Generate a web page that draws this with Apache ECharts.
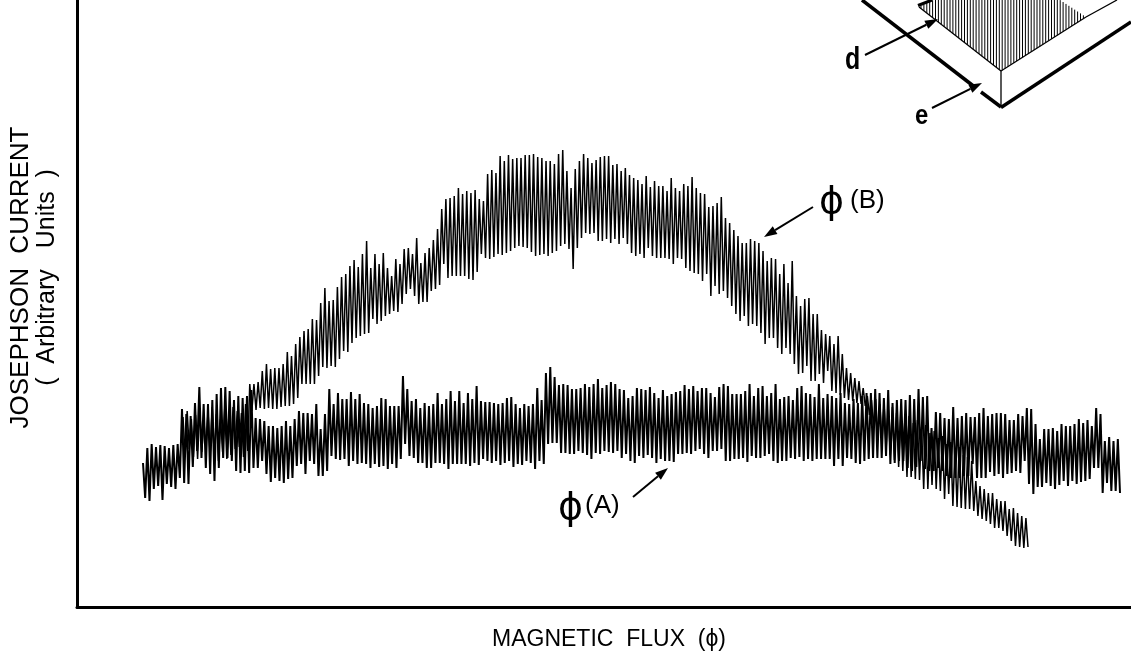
<!DOCTYPE html>
<html>
<head>
<meta charset="utf-8">
<style>html,body{margin:0;padding:0;background:#fff}#chart{width:1131px;height:654px}</style>
<script src="https://cdn.jsdelivr.net/npm/echarts@6/dist/echarts.min.js"></script>
</head>
<body>
<div id="chart"></div>
<script>
const xTitle = "MAGNETIC  FLUX  (ϕ)";
const yTitleLine1 = "JOSEPHSON  CURRENT";
const yTitleLine2 = "(  Arbitrary   Units  )";
const labelA = "(A)";
const labelB = "(B)";

const fluxRangeA = [66, 1043];
const fluxRangeB = [106, 951];

const aTops1 = [144,159,163,160,162,161,159,162,163,198,193,191,204,220,203,203,207,213,219,220,216,207,211,209,211,217,189,188,186,181,181,179,181,186,181,188,196,194,194,193,203,178,193,218,203,214,208,208,215,208,213,204,203,199,201,209,208,201,201,201,231,218,206,208,199,204,201,203,214,203,208,216,206,216,204,214,208];
const aBottoms1 = [109,106,118,121,107,123,120,118,129,124,123,140,156,149,139,133,126,139,149,149,146,136,134,136,134,139,139,146,133,125,129,126,124,128,129,141,143,133,146,143,131,131,136,151,148,147,148,141,146,143,144,143,139,143,140,141,138,143,139,148,163,151,149,144,144,139,139,144,144,143,138,143,143,143,143,141,144];
const aTops2 = [221,206,205,205,204,203,204,209,210,203,199,203,201,203,219,207,234,240,230,222,223,222,218,218,219,223,220,223,228,219,222,225,223,218,217,209,211,219,218,217,220,214,209,217,211,213,215,216,222,218,221,216,219,219,214,210,220,223,221,213,213,213,216,223,211,219,221,211,214,223,208,210,211,207,219];
const aBottoms2 = [142,148,146,144,146,142,144,146,140,143,142,146,144,138,146,143,163,164,164,154,154,153,153,156,154,152,148,154,153,156,155,154,156,149,153,146,144,151,149,152,149,144,148,146,146,145,153,153,154,153,156,158,153,149,156,156,158,146,146,148,148,149,145,151,149,149,151,153,146,144,146,146,149,148,150];
const aTops3 = [221,214,213,210,223,209,213,211,209,214,204,203,208,204,211,214,214,218,214,209,217,204,207,208,207,212,208,218,210,211,179,195,194,189,188,200,189,191,194,190,190,194,199,191,193,194,194,193,187,187,193,191,199,198,183,168,178,178,179,176,183,181,181,183,188,184,187,181,199,193,166,170,166,168];
const aBottoms3 = [146,148,146,148,148,148,148,141,148,141,149,148,144,143,146,148,149,149,149,151,143,144,146,146,139,136,140,146,138,136,136,139,136,131,129,129,129,131,131,143,129,129,129,135,131,133,129,133,134,136,134,146,123,113,120,120,124,121,118,122,126,121,126,123,125,126,128,139,139,114,124,116,116,114];

const bTops1 = [190,196,188,192,198,186,195,200,193,188,198,192,200,196,194,203];
const bBottoms1 = [152,158,150,148,155,160,152,150,146,155,148,152,158,160,150,156];
const bTops2 = [223,223,225,236,243,238,239,239,243,255,251,263,270,276,278,288,287,304,319,306,307,320,330,333,341,347,340,353,366,339,353,343,354,339,331,348,343,358,359,353,369,344,354,359,367,378];
const bBottoms2 = [196,197,199,198,199,198,198,200,201,201,203,209,223,223,223,223,231,240,239,241,240,248,256,255,264,269,271,273,274,288,283,286,291,293,296,295,303,313,318,311,303,305,305,316,318,322];
const bTops3 = [398,408,409,411,419,413,416,414,417,408,406,433,437,434,451,446,452,448,449,449,452,452,453,450];
const bBottoms3 = [343,329,331,331,331,331,328,327,335,353,349,348,350,353,352,354,356,359,361,360,359,355,351,352];
const bTops4 = [449,446,446,443,453,457,436,419,438,446,453,449,444,447,450,451,451,442,443,436,439,432,429,427,423,431,420,426,421,421,416,429,419,416,423,421,430,419,414,413,400,401,404,410,389,384,377,371,364,364,368,366,364,356,346,349,348,333,343,324,346,311,301,308,309,293,293,277,273,271,263,271,253,239,234,229,226,219];
const bBottoms4 = [353,351,354,356,361,363,358,338,359,369,374,373,374,366,366,368,364,368,363,369,363,354,351,353,349,359,351,349,349,349,348,343,349,348,339,336,334,333,326,333,311,321,313,316,309,301,293,286,291,281,283,281,274,263,269,269,259,253,259,253,243,233,234,241,226,226,233,224,236,216,214,212,209,207,206,204,203,201];
const bTops5 = [211,207,208,203,204,199,200,194,196,189,191,184,187,180,182,174,176,169,171,163,165,158,160,152,150,146,126,121,118,114,114,108,106,106,98,99,94,91,89];
const bBottoms5 = [192,180,172,165,158,152,147,140,136,130,130,128,127,118,118,122,118,116,108,113,101,100,99,98,98,96,91,88,86,83,79,79,76,71,66,61,60,59,60];

function zigzag(tops, bottoms, range) {
  const n = Math.min(tops.length, bottoms.length);
  const out = [];
  const step = (range[1] - range[0]) / (2 * n - 1);
  for (let i = 0; i < n; i++) {
    out.push([range[0] + 2 * i * step, tops[i]]);
    out.push([range[0] + (2 * i + 1) * step, bottoms[i]]);
  }
  return out;
}
const seriesA = zigzag(aTops1.concat(aTops2, aTops3), aBottoms1.concat(aBottoms2, aBottoms3), fluxRangeA);
const seriesB = zigzag(bTops1.concat(bTops2, bTops3, bTops4, bTops5), bBottoms1.concat(bBottoms2, bBottoms3, bBottoms4, bBottoms5), fluxRangeB);

function seg(x1, y1, x2, y2, w) {
  return { type: 'line', silent: true, shape: { x1, y1, x2, y2 }, style: { stroke: '#000', lineWidth: w, lineCap: 'butt' } };
}
function arrow(x1, y1, x2, y2) {
  const a = Math.atan2(y2 - y1, x2 - x1), L = 13, W = 4.5;
  const bx = x2 - L * Math.cos(a), by = y2 - L * Math.sin(a);
  const nx = -Math.sin(a), ny = Math.cos(a);
  return [seg(x1, y1, bx, by, 2),
    { type: 'polygon', silent: true, shape: { points: [[x2, y2], [bx + W * nx, by + W * ny], [bx - W * nx, by - W * ny]] }, style: { fill: '#000' } }];
}
function txt(x, y, text, size, extra) {
  return Object.assign({ type: 'text', silent: true, x, y, style: Object.assign({ text, fill: '#000', font: size + 'px "Liberation Sans"', textAlign: 'left', textVerticalAlign: 'middle' }, extra || {}) });
}
const deco = [];
deco.push(seg(862, 0, 976, 88, 3.5), seg(981, 92, 1001, 107, 3.5), seg(1001, 107.5, 1131, 22, 3.5));
deco.push(seg(919, 7, 1001, 71, 1.3), seg(1001, 71, 1086, 17, 1.3), seg(1086, 17, 1117, 0, 1.3), seg(1001, 71, 1001, 107, 1.3), seg(918, 5.5, 932, 0, 3));
for (let x = 921; x < 1086; x += 2.9) {
  const low = x < 1001 ? 7 + (x - 919) * 64 / 82 : 71 - (x - 1001) * 54 / 85;
  let up = 0;
  if (x < 933) up = 7 - (x - 919) * 0.5;
  if (x > 1060) up = (x - 1060) * 17 / 26;
  deco.push(seg(x, up, x, low, 1));
}
deco.push(...arrow(865, 55, 938, 19), ...arrow(932, 108, 982, 83), ...arrow(813, 207, 764, 237), ...arrow(633, 497, 668, 468));
deco.push(Object.assign(txt(845, 60, 'd', 32, { font: 'bold 32px "Liberation Sans"' }), { scaleX: 0.78 }));
deco.push(Object.assign(txt(915, 116, 'e', 28, { font: 'bold 28px "Liberation Sans"' }), { scaleX: 0.85 }));
deco.push(txt(819, 203, 'ϕ', 38, { font: '38px "DejaVu Sans"' }), txt(850, 201, labelB, 26));
deco.push(txt(558, 509, 'ϕ', 38, { font: '38px "DejaVu Sans"' }), txt(585, 506, labelA, 26));

const option = {
  animation: false,
  backgroundColor: '#fff',
  grid: { left: 77, right: 0, top: 0, bottom: 47, outerBoundsMode: 'none' },
  xAxis: {
    type: 'value', min: 0, max: 1054,
    name: xTitle, nameLocation: 'middle', nameGap: 21,
    nameTextStyle: { color: '#000', fontSize: 23, fontFamily: 'Liberation Sans', padding: [0, 0, 0, 10] },
    axisLine: { lineStyle: { color: '#000', width: 3 } },
    axisTick: { show: false }, axisLabel: { show: false }, splitLine: { show: false }
  },
  yAxis: {
    type: 'value', min: 0, max: 607,
    name: '{a|' + yTitleLine1 + '}\n{b|' + yTitleLine2 + '}', nameLocation: 'middle', nameGap: 16, nameRotate: 90,
    nameTextStyle: {
      color: '#000',
      padding: [0, 0, 0, 52],
      rich: {
        a: { fontSize: 26, fontFamily: 'Liberation Sans', lineHeight: 27, color: '#000' },
        b: { fontSize: 25, fontFamily: 'Liberation Sans', lineHeight: 27, color: '#000' }
      }
    },
    axisLine: { lineStyle: { color: '#000', width: 3 } },
    axisTick: { show: false }, axisLabel: { show: false }, splitLine: { show: false }
  },
  series: [
    { name: 'ϕ(A)', type: 'line', data: seriesA, showSymbol: false, sampling: false, lineStyle: { color: '#000', width: 2 }, emphasis: { disabled: true } },
    { name: 'ϕ(B)', type: 'line', data: seriesB, showSymbol: false, sampling: false, lineStyle: { color: '#000', width: 1.5 }, emphasis: { disabled: true } }
  ],
  graphic: deco
};
echarts.init(document.getElementById('chart'), null, { renderer: 'canvas' }).setOption(option);
</script>
</body>
</html>
